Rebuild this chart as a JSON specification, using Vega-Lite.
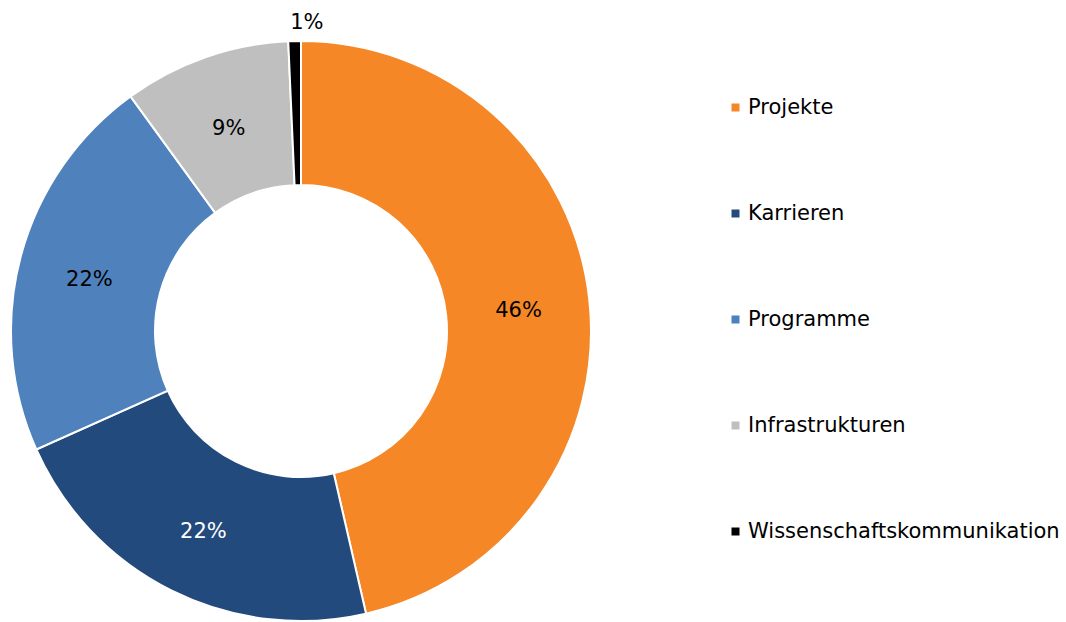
{
  "$schema": "https://vega.github.io/schema/vega-lite/v6.json",
  "width": 602,
  "height": 622,
  "padding": {"left": 0, "top": 20, "right": 464, "bottom": 0},
  "autosize": {"type": "none"},
  "background": "white",
  "config": {"view": {"stroke": null}, "font": "DejaVu Sans"},
  "data": {
    "values": [
      {"idx": 1, "cat": "Projekte", "share": 0.464},
      {"idx": 2, "cat": "Karrieren", "share": 0.219},
      {"idx": 3, "cat": "Programme", "share": 0.217},
      {"idx": 4, "cat": "Infrastrukturen", "share": 0.093},
      {"idx": 5, "cat": "Wissenschaftskommunikation", "share": 0.007}
    ]
  },
  "encoding": {
    "theta": {"field": "share", "type": "quantitative", "stack": true},
    "order": {"field": "idx", "type": "quantitative", "sort": "ascending"}
  },
  "layer": [
    {
      "mark": {"type": "arc", "outerRadius": 290, "innerRadius": 146, "stroke": "white", "strokeWidth": 2},
      "encoding": {
        "color": {
          "field": "cat",
          "type": "nominal",
          "scale": {
            "domain": ["Projekte", "Karrieren", "Programme", "Infrastrukturen", "Wissenschaftskommunikation"],
            "range": ["#F58727", "#234A7C", "#4F81BD", "#BFBFBF", "#000000"]
          },
          "legend": {
            "title": null,
            "orient": "none",
            "legendX": 725,
            "legendY": 77,
            "symbolType": "square",
            "symbolSize": 64,
            "symbolStrokeWidth": 0,
            "labelFont": "DejaVu Sans",
            "labelFontSize": 21,
            "labelColor": "#000000",
            "labelOffset": 2,
            "rowPadding": 84,
            "labelLimit": 400
          }
        }
      }
    },
    {
      "transform": [{"filter": "datum.share >= 0.02"}],
      "mark": {"type": "text", "radius": 219, "dy": 5, "font": "DejaVu Sans", "fontSize": 21},
      "encoding": {
        "text": {"field": "share", "type": "quantitative", "format": ".0%"},
        "color": {"condition": {"test": "datum.cat === 'Karrieren'", "value": "#FFFFFF"}, "value": "#000000"}
      }
    },
    {
      "transform": [{"filter": "datum.share < 0.02"}],
      "mark": {"type": "text", "radius": 309, "dx": -1, "dy": 1, "font": "DejaVu Sans", "fontSize": 21, "color": "#000000"},
      "encoding": {
        "text": {"field": "share", "type": "quantitative", "format": ".0%"}
      }
    }
  ]
}
